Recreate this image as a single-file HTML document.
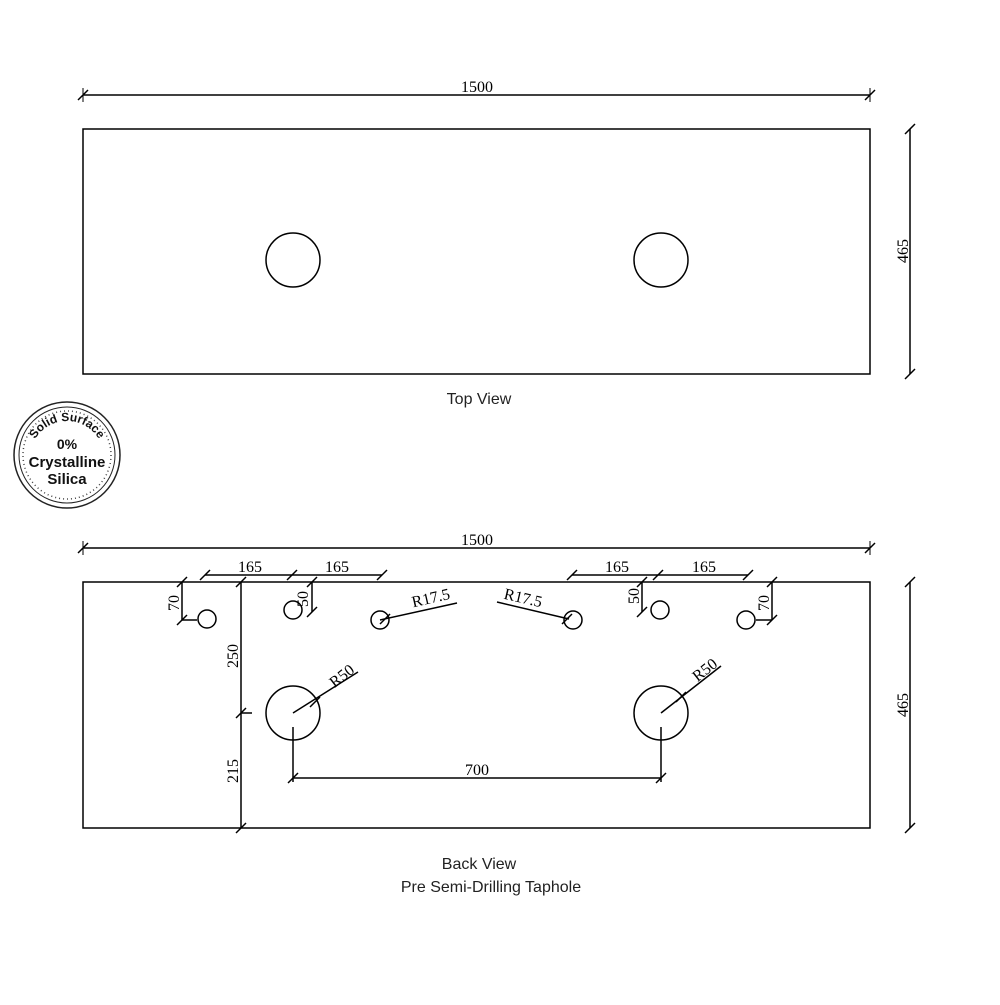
<!DOCTYPE html>
<html><head><style>html,body{margin:0;padding:0;background:#fff}</style></head>
<body>
<svg width="1000" height="1000" viewBox="0 0 1000 1000" xmlns="http://www.w3.org/2000/svg">
<defs><path id="t" d="M-5,5 L5,-5" stroke="#000" stroke-width="1.5"/></defs>
<g fill="none" stroke="#000" stroke-width="1.5">
<rect x="83" y="129" width="787" height="245"/>
<circle cx="293" cy="260" r="27"/><circle cx="661" cy="260" r="27"/>
<line x1="83" y1="95" x2="870" y2="95"/><line x1="83" y1="88" x2="83" y2="102" stroke-width="1"/><line x1="870" y1="88" x2="870" y2="102" stroke-width="1"/>
<line x1="910" y1="129" x2="910" y2="374"/>
<rect x="83" y="582" width="787" height="246"/>
<line x1="83" y1="548" x2="870" y2="548"/><line x1="83" y1="541" x2="83" y2="555" stroke-width="1"/><line x1="870" y1="541" x2="870" y2="555" stroke-width="1"/>
<line x1="910" y1="582" x2="910" y2="828"/>
<line x1="241" y1="582" x2="241" y2="828"/><line x1="241" y1="713" x2="252" y2="713"/>
<circle cx="207" cy="619" r="9"/><circle cx="293" cy="610" r="9"/><circle cx="380" cy="620" r="9"/>
<circle cx="573" cy="620" r="9"/><circle cx="660" cy="610" r="9"/><circle cx="746" cy="620" r="9"/>
<circle cx="293" cy="713" r="27"/><circle cx="661" cy="713" r="27"/>
<line x1="293" y1="713" x2="358" y2="672"/><line x1="661" y1="713" x2="721" y2="666"/>
<line x1="380" y1="620" x2="457" y2="603"/><line x1="569" y1="619" x2="497" y2="602"/>
<line x1="293" y1="727" x2="293" y2="782"/><line x1="661" y1="727" x2="661" y2="782"/>
<line x1="293" y1="778" x2="661" y2="778"/>
<line x1="205" y1="575" x2="382" y2="575"/><line x1="572" y1="575" x2="748" y2="575"/>
<line x1="182" y1="582" x2="182" y2="620"/><line x1="182" y1="620" x2="197" y2="620"/>
<line x1="312" y1="582" x2="312" y2="612"/>
<line x1="642" y1="582" x2="642" y2="612"/>
<line x1="772" y1="582" x2="772" y2="620"/><line x1="772" y1="620" x2="756" y2="620"/>
</g>
<g>
<use href="#t" x="83" y="95"/><use href="#t" x="870" y="95"/><use href="#t" x="910" y="129"/><use href="#t" x="910" y="374"/>
<use href="#t" x="83" y="548"/><use href="#t" x="870" y="548"/><use href="#t" x="910" y="582"/><use href="#t" x="910" y="828"/>
<use href="#t" x="205" y="575"/><use href="#t" x="292" y="575"/><use href="#t" x="382" y="575"/>
<use href="#t" x="572" y="575"/><use href="#t" x="658" y="575"/><use href="#t" x="748" y="575"/>
<use href="#t" x="241" y="582"/><use href="#t" x="241" y="713"/><use href="#t" x="241" y="828"/>
<use href="#t" x="182" y="582"/><use href="#t" x="182" y="620"/><use href="#t" x="312" y="582"/><use href="#t" x="312" y="612"/>
<use href="#t" x="642" y="582"/><use href="#t" x="642" y="612"/><use href="#t" x="772" y="582"/><use href="#t" x="772" y="620"/>
<use href="#t" x="293" y="778"/><use href="#t" x="661" y="778"/>
<use href="#t" x="315" y="702"/><use href="#t" x="681" y="697"/><use href="#t" x="385" y="619"/><use href="#t" x="567" y="619"/>
</g>
<g font-family="Liberation Serif, serif" font-size="16" fill="#000" text-anchor="middle">
<text x="477" y="92">1500</text><text x="477" y="545">1500</text>
<text transform="translate(908,251) rotate(-90)">465</text><text transform="translate(908,705) rotate(-90)">465</text>
<text x="250" y="572">165</text><text x="337" y="572">165</text><text x="617" y="572">165</text><text x="704" y="572">165</text>
<text transform="translate(179,603) rotate(-90)">70</text><text transform="translate(308,599) rotate(-90)">50</text>
<text transform="translate(639,596) rotate(-90)">50</text><text transform="translate(769,603) rotate(-90)">70</text>
<text transform="translate(238,656) rotate(-90)">250</text><text transform="translate(238,771) rotate(-90)">215</text>
<text x="477" y="775">700</text>
<text transform="translate(432,603) rotate(-13)">R17.5</text>
<text transform="translate(522,603) rotate(13)">R17.5</text>
<text transform="translate(345,680) rotate(-38)">R50</text>
<text transform="translate(708,674) rotate(-38)">R50</text>
</g>
<g font-family="Liberation Sans, sans-serif" font-size="16" fill="#222" text-anchor="middle">
<text x="479" y="404">Top View</text>
<text x="479" y="869">Back View</text>
<text x="491" y="892">Pre Semi-Drilling Taphole</text>
</g>
<g>
<circle cx="67" cy="455" r="53" fill="none" stroke="#222" stroke-width="1.5"/>
<circle cx="67" cy="455" r="48" fill="none" stroke="#222" stroke-width="1"/>
<circle cx="67" cy="455" r="44" fill="none" stroke="#444" stroke-width="1.5" stroke-dasharray="1 3"/>
<path id="arc" d="M30,458 A37,37 0 0 1 104,458" fill="none"/>
<text font-family="Liberation Sans, sans-serif" font-size="12" font-weight="bold" fill="#111"><textPath href="#arc" startOffset="50%" text-anchor="middle">Solid Surface</textPath></text>
<g font-family="Liberation Sans, sans-serif" font-weight="bold" fill="#111" text-anchor="middle">
<text x="67" y="449" font-size="14">0%</text>
<text x="67" y="467" font-size="15">Crystalline</text>
<text x="67" y="484" font-size="15">Silica</text>
</g>
</g>
</svg>
</body></html>
